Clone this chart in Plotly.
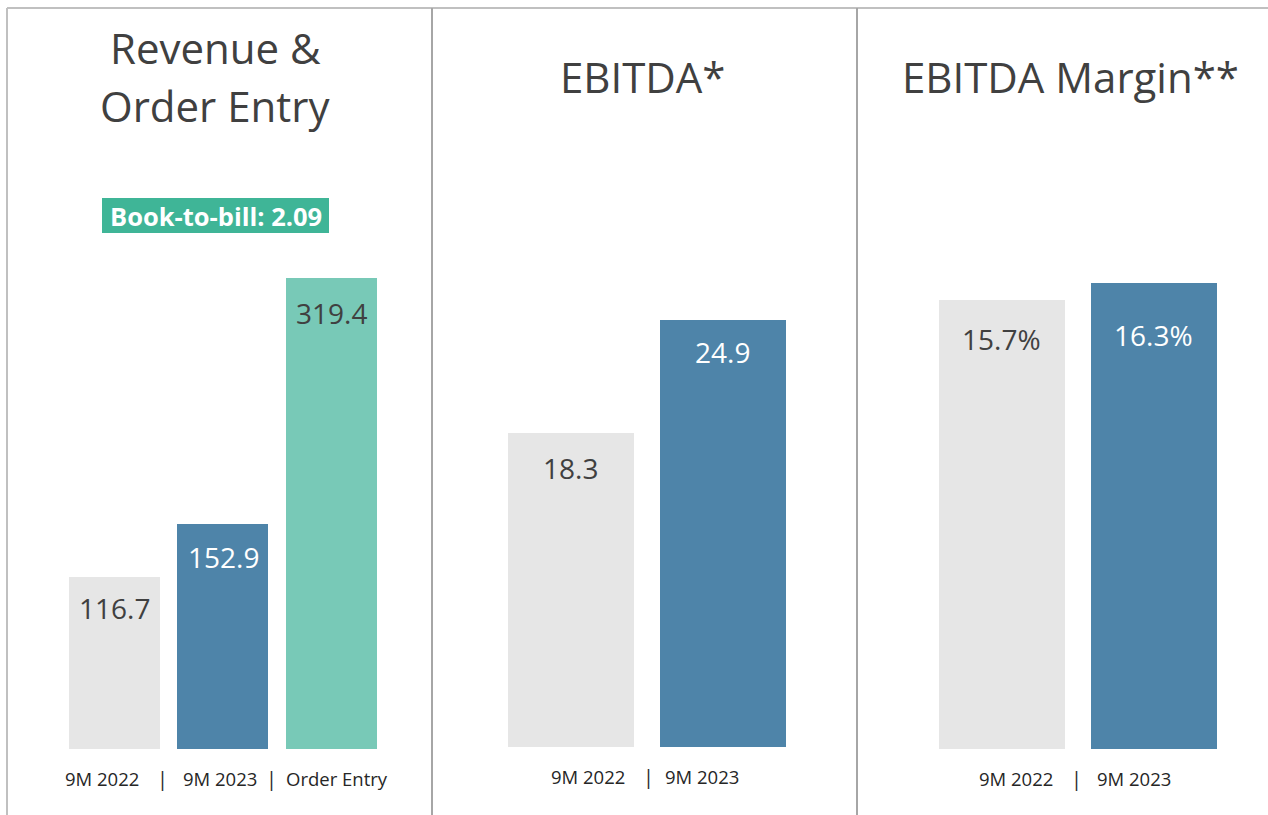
import plotly.graph_objects as go

# ---- data ----
rev_categories = ["9M 2022", "9M 2023", "Order Entry"]
rev_values = [116.7, 152.9, 319.4]
rev_labels = ["116.7", "152.9", "319.4"]

ebitda_categories = ["9M 2022", "9M 2023"]
ebitda_values = [18.3, 24.9]
ebitda_labels = ["18.3", "24.9"]

margin_categories = ["9M 2022", "9M 2023"]
margin_values = [15.7, 16.3]
margin_labels = ["15.7%", "16.3%"]

titles = [["Revenue &", "Order Entry"], ["EBITDA*"], ["EBITDA Margin**"]]
book_to_bill = "Book-to-bill: 2.09"

# ---- style ----
W, H = 1268, 815
GREY, BLUE, TEAL = "#e6e6e6", "#4e84a9", "#78c9b7"
BOX = "#3fb597"
DARK = "#404040"
FONT = "Open Sans"


def fx(px):
    return px / W


def fy(py):
    return 1 - py / H


panels = [
    dict(cats=rev_categories, vals=rev_values, labels=rev_labels,
         colors=[GREY, BLUE, TEAL], tcolors=[DARK, "white", DARK],
         xpx=(60.25, 385.75), ypx=(749, 278), gap=0.16,
         lab_off=[31, 33, 35], cat_shift=[-13, -3, 5], sep_shift=[-6, -6],
         title_x=215, title_y=[48, 105]),
    dict(cats=ebitda_categories, vals=ebitda_values, labels=ebitda_labels,
         colors=[GREY, BLUE], tcolors=[DARK, "white"],
         xpx=(494.5, 798.5), ypx=(747, 320), gap=0.165,
         lab_off=[35, 32], cat_shift=[17, -21], sep_shift=[2],
         title_x=643, title_y=[76]),
    dict(cats=margin_categories, vals=margin_values, labels=margin_labels,
         colors=[GREY, BLUE], tcolors=[DARK, "white"],
         xpx=(925.5, 1229.5), ypx=(749, 283), gap=0.165,
         lab_off=[39, 52], cat_shift=[14, -20], sep_shift=[-1],
         title_x=1070, title_y=[76]),
]

fig = go.Figure()
annotations = []
layout_axes = {}

for i, p in enumerate(panels, start=1):
    xa = "x" if i == 1 else f"x{i}"
    ya = "y" if i == 1 else f"y{i}"
    fig.add_trace(go.Bar(
        x=p["cats"], y=p["vals"], xaxis=xa, yaxis=ya,
        marker=dict(color=p["colors"], line=dict(width=0)),
        width=1 - p["gap"], showlegend=False, hoverinfo="skip",
    ))
    n = len(p["cats"])
    layout_axes[f"xaxis{'' if i == 1 else i}"] = dict(
        domain=[fx(p["xpx"][0]), fx(p["xpx"][1])], range=[-0.5, n - 0.5],
        showticklabels=False, showgrid=False, zeroline=False, showline=False,
        anchor=ya, fixedrange=True,
    )
    layout_axes[f"yaxis{'' if i == 1 else i}"] = dict(
        domain=[fy(p["ypx"][0]), fy(p["ypx"][1])], range=[0, max(p["vals"])],
        showticklabels=False, showgrid=False, zeroline=False, showline=False,
        anchor=xa, fixedrange=True,
    )
    # value labels inside bars + category labels
    for j, (c, v, t) in enumerate(zip(p["cats"], p["vals"], p["labels"])):
        annotations.append(dict(
            x=c, y=v, xref=xa, yref=ya, text=t, showarrow=False,
            yanchor="middle", yshift=-p["lab_off"][j],
            font=dict(family=FONT, size=28, color=p["tcolors"][j]),
        ))
        annotations.append(dict(
            x=c, y=0, xref=xa, yref=ya, text=c, showarrow=False,
            yanchor="middle", yshift=-29, xshift=p["cat_shift"][j],
            font=dict(family=FONT, size=18.5, color="#262626"),
        ))
    for j in range(n - 1):
        annotations.append(dict(
            x=j + 0.5, y=0, xref=xa, yref=ya, text="|", showarrow=False,
            yanchor="middle", yshift=-29, xshift=p["sep_shift"][j],
            font=dict(family=FONT, size=20, color="#262626"),
        ))
    # panel title
    for line, ty in zip(titles[i - 1], p["title_y"]):
        annotations.append(dict(
            x=fx(p["title_x"]), y=fy(ty),
            xref="paper", yref="paper", text=line, showarrow=False,
            yanchor="middle", xanchor="center",
            font=dict(family=FONT, size=42, color=DARK),
        ))

# book-to-bill badge
annotations.append(dict(
    x=fx(215.5), y=fy(215.5), xref="paper", yref="paper", text=f"<b>{book_to_bill}</b>",
    showarrow=False, xanchor="center", yanchor="middle",
    font=dict(family=FONT, size=25.5, color="white"),
))

shapes = [
    dict(type="rect", xref="paper", yref="paper", x0=fx(102), x1=fx(329),
         y0=fy(233), y1=fy(198), fillcolor=BOX, line=dict(width=0), layer="below"),
    dict(type="line", xref="paper", yref="paper", x0=fx(7), x1=1, y0=fy(8), y1=fy(8),
         line=dict(color="#c0c0c0", width=2)),
    dict(type="line", xref="paper", yref="paper", x0=fx(7), x1=fx(7), y0=fy(8), y1=0,
         line=dict(color="#c0c0c0", width=2)),
    dict(type="line", xref="paper", yref="paper", x0=fx(432), x1=fx(432), y0=fy(8), y1=0,
         line=dict(color="#a6a6a6", width=2)),
    dict(type="line", xref="paper", yref="paper", x0=fx(857), x1=fx(857), y0=fy(8), y1=0,
         line=dict(color="#a6a6a6", width=2)),
]

fig.update_layout(
    width=W, height=H, margin=dict(l=0, r=0, t=0, b=0),
    paper_bgcolor="white", plot_bgcolor="white",
    annotations=annotations, shapes=shapes, bargap=0,
    **layout_axes,
)

fig.write_html(
    "out.html",
    config={"displayModeBar": False},
    post_script="document.body.style.margin='0';document.body.style.overflow='hidden';",
)
